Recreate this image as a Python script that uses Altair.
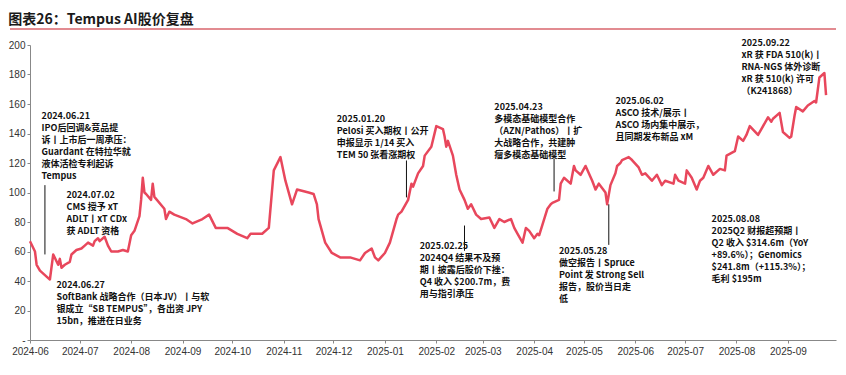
import altair as alt
import pandas as pd

title_text = "图表26：Tempus AI股价复盘"

dates = [
    "2024-06-14", "2024-06-17", "2024-06-18", "2024-06-20", "2024-06-21", "2024-06-24", "2024-06-26", "2024-06-28",
    "2024-07-01", "2024-07-02", "2024-07-03", "2024-07-05", "2024-07-08", "2024-07-09", "2024-07-11", "2024-07-12",
    "2024-07-15", "2024-07-17", "2024-07-19", "2024-07-22", "2024-07-23", "2024-07-25", "2024-07-26", "2024-07-29",
    "2024-07-31", "2024-08-02", "2024-08-06", "2024-08-09", "2024-08-12", "2024-08-14", "2024-08-16", "2024-08-19",
    "2024-08-20", "2024-08-21", "2024-08-22", "2024-08-23", "2024-08-26", "2024-08-27", "2024-08-28", "2024-09-03",
    "2024-09-04", "2024-09-06", "2024-09-09", "2024-09-16", "2024-09-20", "2024-09-26", "2024-09-30", "2024-10-04",
    "2024-10-11", "2024-10-17", "2024-10-23", "2024-10-25", "2024-11-01", "2024-11-05", "2024-11-08", "2024-11-12",
    "2024-11-15", "2024-11-19", "2024-11-22", "2024-11-29", "2024-12-02", "2024-12-04", "2024-12-05", "2024-12-09",
    "2024-12-13", "2024-12-18", "2024-12-24", "2024-12-30", "2025-01-02", "2025-01-06", "2025-01-08", "2025-01-10",
    "2025-01-14", "2025-01-17", "2025-01-21", "2025-01-22", "2025-01-24", "2025-01-28", "2025-01-30", "2025-01-31",
    "2025-02-03", "2025-02-06", "2025-02-07", "2025-02-11", "2025-02-14", "2025-02-18", "2025-02-19", "2025-02-20",
    "2025-02-21", "2025-02-24", "2025-02-26", "2025-02-28", "2025-03-03", "2025-03-05", "2025-03-07", "2025-03-10",
    "2025-03-13", "2025-03-18", "2025-03-21", "2025-03-24", "2025-03-27", "2025-03-31", "2025-04-02", "2025-04-04",
    "2025-04-07", "2025-04-09", "2025-04-11", "2025-04-14", "2025-04-16", "2025-04-17", "2025-04-22", "2025-04-24",
    "2025-04-25", "2025-04-29", "2025-04-30", "2025-05-02", "2025-05-06", "2025-05-08", "2025-05-09", "2025-05-12",
    "2025-05-15", "2025-05-19", "2025-05-21", "2025-05-23", "2025-05-27", "2025-05-28", "2025-05-30", "2025-06-02",
    "2025-06-03", "2025-06-05", "2025-06-06", "2025-06-10", "2025-06-12", "2025-06-16", "2025-06-18", "2025-06-20",
    "2025-06-24", "2025-06-27", "2025-06-30", "2025-07-02", "2025-07-07", "2025-07-08", "2025-07-10", "2025-07-14",
    "2025-07-15", "2025-07-18", "2025-07-21", "2025-07-23", "2025-07-25", "2025-07-28", "2025-07-31", "2025-08-04",
    "2025-08-07", "2025-08-08", "2025-08-13", "2025-08-15", "2025-08-18", "2025-08-20", "2025-08-22", "2025-08-27",
    "2025-08-29", "2025-09-02", "2025-09-04", "2025-09-05", "2025-09-09", "2025-09-11", "2025-09-15", "2025-09-16",
    "2025-09-18", "2025-09-19", "2025-09-23", "2025-09-26", "2025-09-30", "2025-10-01", "2025-10-03", "2025-10-06",
    "2025-10-07",
]
prices = [
    67, 60, 51, 47, 46, 43, 41, 58,
    51, 55, 49, 51, 53, 58, 60, 61,
    62, 64, 66, 64, 67, 69, 67, 70,
    64, 60, 60, 61, 60, 71, 74, 84,
    95, 110, 100, 99, 95, 106, 97, 89,
    82, 87, 85, 82, 79, 82, 85, 76,
    76, 72, 69, 72, 72, 76, 115, 124,
    108, 92, 102, 100, 99, 92, 82, 66,
    59, 56, 56, 54, 59, 62, 56, 54,
    59, 66, 82, 85, 87, 95, 106, 104,
    113, 118, 125, 131, 145, 143, 138, 131,
    135, 125, 112, 102, 95, 89, 92, 85,
    82, 83, 76, 82, 80, 82, 76, 72,
    66, 76, 74, 69, 72, 71, 89, 92,
    93, 95, 106, 110, 106, 118, 115, 112,
    118, 108, 102, 106, 100, 92, 105, 113,
    118, 120, 122, 124, 122, 117, 112, 113,
    108, 112, 105, 108, 106, 112, 108, 106,
    115, 110, 102, 108, 110, 118, 112, 116,
    115, 125, 128, 138, 135, 139, 145, 139,
    143, 151, 148, 150, 154, 141, 137, 138,
    152, 158, 155, 159, 162, 161, 178, 181,
    166,
]

tick_months = [
    "2024-06", "2024-07", "2024-08", "2024-09", "2024-10", "2024-11", "2024-12", "2025-01",
    "2025-02", "2025-03", "2025-04", "2025-05", "2025-06", "2025-07", "2025-08", "2025-09",
]
y_ticks = [0, 20, 40, 60, 80, 100, 120, 140, 160, 180, 200]

note_dates = ["2024-06-21", "2024-07-06", "2024-06-30", "2024-12-16", "2025-02-04",
              "2025-03-21", "2025-04-29", "2025-06-02", "2025-08-17", "2025-07-30"]
note_values = [154.6, 100.7, 40, 152.6, 66.4, 161, 63, 165, 204, 85]
note_texts = [
    "2024.06.21\nIPO后回调&竞品提\n诉丨上市后一周承压：\nGuardant 在特拉华就\n液体活检专利起诉\nTempus",
    "2024.07.02\nCMS 授予 xT\nADLT丨xT CDx\n获 ADLT 资格",
    "2024.06.27\nSoftBank 战略合作（日本JV）丨与软\n银成立“SB TEMPUS”，各出资 JPY\n15bn，推进在日业务",
    "2025.01.20\nPelosi 买入期权丨公开\n申报显示 1/14 买入\nTEM 50 张看涨期权",
    "2025.02.25\n2024Q4 结果不及预\n期丨披露后股价下挫：\nQ4 收入 $200.7m，费\n用与指引承压",
    "2025.04.23\n多模态基础模型合作\n（AZN/Pathos）丨扩\n大战略合作，共建肿\n瘤多模态基础模型",
    "2025.05.28\n做空报告丨Spruce\nPoint 发 Strong Sell\n报告，股价当日走\n低",
    "2025.06.02\nASCO 技术/展示丨\nASCO 场内集中展示，\n且同期发布新品 xM",
    "2025.09.22\nxR 获 FDA 510(k)丨\nRNA-NGS 体外诊断\nxR 获 510(k) 许可\n（K241868）",
    "2025.08.08\n2025Q2 财报超预期丨\nQ2 收入 $314.6m（YoY\n+89.6%）；Genomics\n$241.8m（+115.3%）；\n毛利 $195m",
]

ptr_dates = ["2024-06-23", "2025-01-27", "2025-03-03", "2025-04-26", "2025-05-29"]
ptr_top = [105, 121.7, 77.6, 123, 92]
ptr_bottom = [58, 96.7, 60.5, 100.7, 64.5]

line_df = pd.DataFrame({"date": dates, "value": prices})
note_df = pd.DataFrame({"date": note_dates, "value": note_values, "text": note_texts})
ptr_df = pd.DataFrame({"date": ptr_dates, "value": ptr_top, "value2": ptr_bottom})

W, H = 806, 295
LINE_COLOR = "#E8475C"
AX_FONT = "Liberation Sans"
CJK_FONT = "Noto Sans CJK SC"

x_ticks = [alt.DateTime(year=int(m[:4]), month=int(m[5:]), date=14, utc=True) for m in tick_months]
x_scale = alt.Scale(type="utc", domain=[alt.DateTime(year=2024, month=6, date=14, utc=True),
                                        alt.DateTime(year=2025, month=10, date=13, utc=True)])
y_scale = alt.Scale(domain=[0, 200], nice=False, zero=True)

x_axis = alt.Axis(values=x_ticks, labelExpr="utcFormat(datum.value, '%Y-%m')", title=None, grid=False,
                  labelFlush=False, labelOverlap=False, tickSize=3, tickColor="#888888",
                  domainColor="#888888", labelColor="#333333", labelFont=AX_FONT, labelFontSize=10,
                  labelPadding=3)
y_axis = alt.Axis(values=y_ticks, title=None, grid=False, tickSize=3, tickColor="#888888",
                  domainColor="#888888", labelColor="#333333", labelFont=AX_FONT, labelFontSize=10,
                  labelPadding=2, labelExpr="datum.value == 0 ? '-' : datum.label")

x_enc = alt.X("date:T", scale=x_scale, axis=x_axis)
y_enc = alt.Y("value:Q", scale=y_scale, axis=y_axis)

line = alt.Chart(line_df).mark_line(color=LINE_COLOR, strokeWidth=2.5, strokeJoin="round").encode(
    x=x_enc, y=y_enc
)

pointers = alt.Chart(ptr_df).mark_rule(color="#111111", strokeWidth=1).encode(
    x=x_enc, y=y_enc, y2="value2:Q"
)

notes = alt.Chart(note_df).mark_text(
    align="left", baseline="top", lineBreak="\n", lineHeight=12, fontSize=9,
    fontWeight="bold", font=CJK_FONT, color="#111111"
).encode(x=x_enc, y=y_enc, text="text:N")

underline = alt.Chart(pd.DataFrame({"k": [0]})).mark_rule(color="#D9646C", strokeWidth=1.5).encode(
    x=alt.value(-20), x2=alt.value(W), y=alt.value(-16)
)

chart = alt.layer(line, pointers, notes, underline).properties(
    width=W, height=H,
    padding={"left": 0, "top": 5, "right": 0, "bottom": 0},
    title=alt.TitleParams(text=title_text, anchor="start", frame="bounds", fontSize=14,
                          font=CJK_FONT, fontWeight="bold", color="#1a1a1a", offset=1),
).configure_view(stroke=None)

chart.save("out.html", embed_options={"renderer": "svg", "actions": False})
